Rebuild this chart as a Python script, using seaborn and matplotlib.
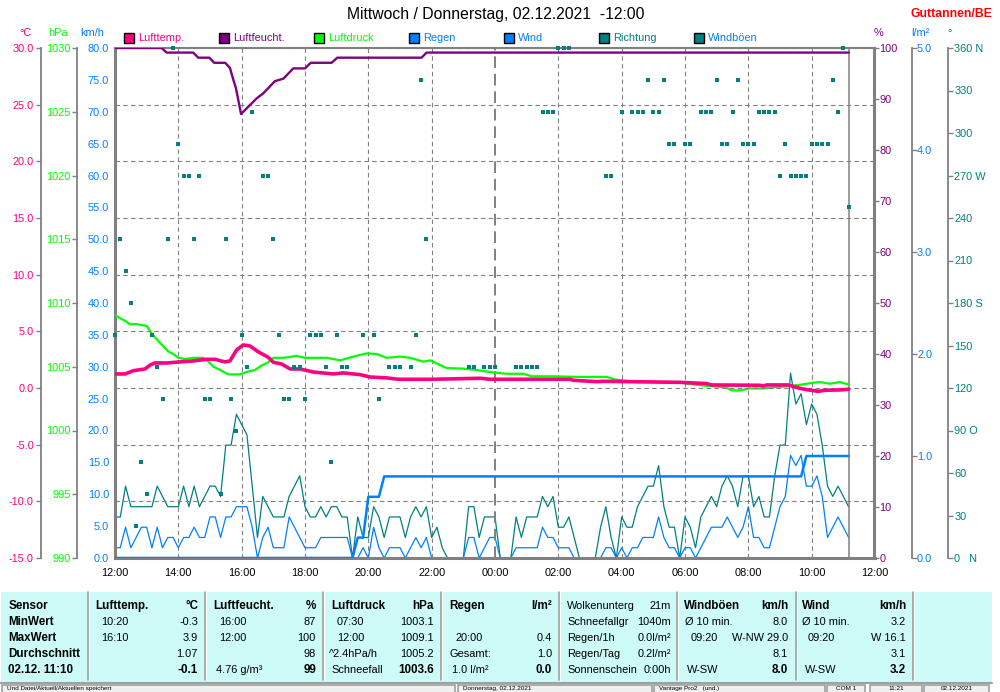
import numpy as np
import matplotlib
matplotlib.use("Agg")
import matplotlib.pyplot as plt
from matplotlib.patches import Rectangle
from matplotlib.lines import Line2D
import seaborn as sns

# ---------- data ----------
hum_h = [0,1.47,1.63,2.47,2.63,2.98,3.13,3.48,3.63,3.74,3.82,3.98,4.47,4.68,5.05,5.32,5.63,6.0,6.18,6.84,7.02,9.68,9.84,23.17]
hum_v = [100,100,99.1,99.1,98.1,98.1,97.1,97.1,96.1,93.7,92.1,87.06,90.1,91.1,93.5,94,96,96,97.1,97.1,98.1,98.1,99.1,99.1]

press_h = [0,.16,.32,.47,.68,1.0,1.16,1.37,1.53,1.68,1.84,2.0,2.21,2.47,2.79,2.95,3.11,3.32,3.58,3.95,4.16,4.42,4.63,4.84,5.0,5.32,5.74,6.0,6.68,7.11,7.53,7.95,8.26,8.58,9.0,9.32,9.74,9.95,10.47,11.0,11.42,11.79,12.16,12.37,12.89,13.16,13.84,14.68,14.99,15.53,15.79,16.47,17.84,18.05,18.68,19.26,19.47,19.79,20.0,20.47,21.32,21.68,22.05,22.26,22.58,22.89,23.17]
press_v = [1009.06,1008.8,1008.6,1008.33,1008.35,1008.2,1007.6,1007.0,1006.6,1006.2,1006.0,1005.7,1005.6,1005.7,1005.7,1005.4,1005.0,1004.75,1004.4,1004.4,1004.6,1004.75,1005.1,1005.35,1005.7,1005.7,1005.85,1005.7,1005.7,1005.5,1005.8,1006.05,1006.0,1005.7,1005.8,1005.7,1005.4,1005.5,1004.9,1004.85,1004.75,1004.6,1004.5,1004.45,1004.45,1004.25,1004.25,1004.2,1004.2,1004.2,1004.0,1003.8,1003.8,1003.67,1003.5,1003.4,1003.15,1003.15,1003.3,1003.3,1003.5,1003.6,1003.75,1003.8,1003.67,1003.8,1003.6]

temp_h = [0,.32,.58,.95,1.11,1.26,1.63,2.05,2.47,2.89,3.16,3.47,3.63,3.84,4.05,4.26,4.53,4.84,5.0,5.26,5.53,5.84,6.26,6.89,7.21,7.74,8.05,8.58,8.95,10.05,11.53,11.84,14.37,14.47,15.21,15.42,17.84,18.68,18.84,20.37,20.47,20.58,21.26,21.63,21.89,22.21,22.42,22.89,23.17]
temp_v = [1.24,1.24,1.53,1.68,2.03,2.21,2.21,2.3,2.39,2.53,2.53,2.3,2.39,3.36,3.8,3.71,3.18,2.71,2.27,2.12,1.68,1.68,1.41,1.24,1.33,1.18,.97,.89,.77,.77,.86,.77,.77,.68,.56,.59,.5,.39,.27,.24,.18,.27,.27,-.03,-.17,-.29,-.2,-.17,-.11]

rain_i = [0,45,46,47,48,50,51,130,131,139]
rain_v = [0,0,.2,.2,.6,.6,.8,.8,1.0,1.0]

# wind readings, in steps of the sensor (1 step = 1.61 km/h), one per 10 minutes
gust_steps = [4,4,7,5,5,5,5,5,7,6, 5,5,5,7,5,7,5,6,7,7, 6,11,11,14,13,12,7,2,6,5,
              4,4,4,6,7,8,5,4,4,5, 4,5,5,4,4,0,4,2,2,5, 4,2,4,4,4,2,4,5,4,5,
              2,3,1,0,0,0,0,5,5,2, 4,4,4,0,0,0,4,2,4,4, 4,6,5,6,3,3,4,2,0,0,
              0,0,3,5,2,0,4,3,3,5, 6,7,7,9,5,3,3,0,4,3, 1,4,5,6,5,7,8,7,5,8,
              8,5,6,4,4,8,11,11,18,15, 16,13,15,14,11,7,6,7,6,5]
wind_steps = [1,1,3,1,2,3,3,1,3,1, 2,2,1,2,2,3,2,2,4,4, 2,4,4,5,5,5,3,0,2,3,
              1,1,1,4,3,2,1,1,1,2, 2,2,2,2,2,0,0,1,0,3, 1,0,1,1,1,0,1,2,1,2,
              0,0,0,0,0,0,0,2,2,0, 1,2,2,0,0,0,1,1,1,1, 1,3,2,2,1,1,1,0,0,0,
              0,0,0,1,1,0,1,0,1,1, 2,2,2,4,2,1,1,0,1,1, 0,1,2,3,3,3,4,3,2,3,
              5,2,2,1,1,3,5,6,10,9, 10,7,7,8,6,2,3,4,3,2]
KMH_PER_STEP = 1.61

# wind direction: sample numbers (10 min) per compass sector
dir_360 = [11,84,85,86,138]
dir_3375 = [58,101,104,114,118,136]
dir_315 = [26,81,82,83,96,98,99,100,102,103,111,112,113,117,122,123,124,125,137]
dir_2925 = [12,105,106,108,109,115,116,119,120,121,127,132,133,134,135]
dir_270 = [13,14,16,28,29,93,94,126,128,129,130,131]
dir_2475 = [139]
dir_225 = [1,10,15,21,30,59]
dir_2025 = [2]
dir_180 = [3]
dir_1575 = [0,7,24,31,37,38,39,42,47,49,57]
dir_135 = [8,25,34,35,40,43,44,52,53,54,56,67,68,70,71,72,76,77,78,79,80]
dir_1125 = [9,17,18,22,32,33,36,50]
dir_90 = [23]
dir_675 = [5,41]
dir_45 = [6,20]
dir_225b = [4]
dir_sectors = [(360,dir_360),(337.5,dir_3375),(315,dir_315),(292.5,dir_2925),(270,dir_270),
               (247.5,dir_2475),(225,dir_225),(202.5,dir_2025),(180,dir_180),(157.5,dir_1575),
               (135,dir_135),(112.5,dir_1125),(90,dir_90),(67.5,dir_675),(45,dir_45),(22.5,dir_225b)]

x_labels = ["12:00","14:00","16:00","18:00","20:00","22:00","00:00","02:00","04:00","06:00","08:00","10:00","12:00"]
dir_tick_vals = [0,30,60,90,120,150,180,210,240,270,300,330,360]
dir_tick_txt = ["0   N","30","60","90 O","120","150","180 S","210","240","270 W","300","330","360 N"]
legend_names = ["Lufttemp.","Luftfeucht.","Luftdruck","Regen","Wind","Richtung","Windböen"]

PINK,PURPLE,GREEN,BLUE,TEAL,GREY = "#FF0080","#800080","#00FF00","#0080FF","#008080","#808080"
legend_cols = [PINK,PURPLE,GREEN,BLUE,BLUE,TEAL,TEAL]
legend_text = [PINK,PURPLE,GREEN,BLUE,BLUE,TEAL,BLUE]

# ---------- setup ----------
sns.set_theme(style="white")
plt.rcParams["font.family"] = ["Liberation Sans","DejaVu Sans"]
plt.rcParams["axes.unicode_minus"] = False
W,H = 1000,692
fig = plt.figure(figsize=(W/100,H/100),dpi=100,facecolor="white")
PT = 0.72
FS = 7.9

def fx(x): return x/W
def fy(y): return 1-y/H
ax = fig.add_axes([fx(115),fy(558),fx(875)-fx(115),(558-48)/H])
ax.set_facecolor("white")

def line(a,x,y,c,lw):
    sns.lineplot(x=x,y=y,ax=a,color=c,linewidth=lw,estimator=None,errorbar=None,legend=False)

t10 = np.arange(140)/6
# main axis: km/h
line(ax,t10,np.array(gust_steps)*KMH_PER_STEP,TEAL,0.9)
line(ax,t10,np.array(wind_steps)*KMH_PER_STEP,BLUE,0.9)
ax.set_xlim(0,24); ax.set_ylim(0,80)
ax.set_xticks(np.arange(0,25,2)); ax.set_xticklabels(x_labels,fontsize=FS,color="black")
ax.set_yticks(np.arange(0,81,5)); ax.set_yticklabels([f"{v:.1f}" for v in np.arange(0,81,5)],fontsize=FS,color=BLUE)
ax.tick_params(axis="y",length=0,pad=4.2,left=True)
ax.tick_params(axis="x",length=0,pad=7)
ax.grid(axis="x",color=GREY,lw=0.8,ls=(0,(4,3)))
ax.xaxis.get_gridlines()[6].set_visible(False)
ax.axvline(12,color=GREY,lw=1.4,ls=(0,(6,3)))
ax.axvline(23.17,color=GREY,lw=1.1)
ax.set_xlabel(""); ax.set_ylabel("")
for s,lw in (("left",2.2),("top",1.5),("bottom",2.2),("right",0)):
    ax.spines[s].set_color(GREY); ax.spines[s].set_linewidth(lw)
ax.spines["right"].set_visible(False)

def twin(lo,hi,side,out,ticks,labels,col,pad,minor=True,tl=3.6):
    a = ax.twinx()
    a.patch.set_visible(False)
    a.set_ylim(lo,hi)
    for s in a.spines: a.spines[s].set_visible(False)
    a.spines[side].set_visible(True)
    a.spines[side].set_position(("outward",out*PT))
    a.spines[side].set_color(GREY); a.spines[side].set_linewidth(1.3)
    if side=="left": a.yaxis.tick_left()
    else: a.yaxis.tick_right()
    a.set_yticks(ticks); a.set_yticklabels(labels,fontsize=FS,color=col)
    a.tick_params(axis="y",which="major",length=tl,width=1,color=GREY,pad=pad,direction="out")
    if minor:
        a.set_yticks([lo,hi],minor=True)
        a.tick_params(axis="y",which="minor",length=tl,width=1,color=GREY,direction="in")
    a.set_xlim(0,24)
    a.set_ylabel("")
    return a

t_ticks = np.arange(-15,31,5)
ax_p = twin(990,1030,"left",38,np.arange(990,1031,5),[str(v) for v in range(990,1031,5)],GREEN,1.0)
line(ax_p,press_h,press_v,GREEN,1.6)
ax_t = twin(-15,30,"left",74,t_ticks,[f"{v:.1f}" for v in t_ticks],PINK,1.5)
ax_t.grid(axis="y",color=GREY,lw=0.8,ls=(0,(4,3)))
line(ax_t,temp_h,temp_v,PINK,2.6)
ax_h = twin(0,100,"right",-1,np.arange(0,101,10),[str(v) for v in range(0,101,10)],PURPLE,0.4,minor=False)
ax_h.spines["right"].set_linewidth(2.2)
line(ax_h,hum_h,hum_v,PURPLE,1.7)
ax_r = twin(0,5,"right",37,np.arange(0,6),[f"{v:.1f}" for v in range(6)],BLUE,0.0)
line(ax_r,np.array(rain_i)/6,rain_v,BLUE,1.8)
ax_d = twin(0,360,"right",73,dir_tick_vals,dir_tick_txt,TEAL,1.0)
dx = np.concatenate([np.array(s)/6 for _,s in dir_sectors])
dy = np.concatenate([np.full(len(s),d) for d,s in dir_sectors])
sns.scatterplot(x=dx,y=dy,ax=ax_d,marker="s",s=9.5,color=TEAL,linewidth=0,legend=False,clip_on=False)
ax_d.set_ylim(0,360)

# ---------- header texts ----------
def T(x,y,s,c="black",ha="left",fs=FS,w="normal",**k):
    fig.text(fx(x),fy(y),s,color=c,ha=ha,va="center",fontsize=fs,fontweight=w,**k)

T(496,15,"Mittwoch / Donnerstag, 02.12.2021  -12:00",ha="center",fs=11.3)
T(992,14,"Guttannen/BE","#FF0000",ha="right",fs=8.8,w="bold")
for x,s,c in ((25,"°C",PINK),(58,"hPa",GREEN),(92,"km/h",BLUE),(878,"%",PURPLE),(920,"l/m²",BLUE),(950,"°",TEAL)):
    T(x,33,s,c,ha="center")
for i,(n,c,tc) in enumerate(zip(legend_names,legend_cols,legend_text)):
    x0 = 124+95*i
    fig.add_artist(Rectangle((fx(x0),fy(43)),10/W,10/H,transform=fig.transFigure,fc=c,ec="black",lw=1))
    T(x0+14,38,n,tc)

# ---------- table ----------
TAB = "#CCFBF8"
fig.add_artist(Rectangle((fx(1),fy(682)),991/W,90/H,transform=fig.transFigure,fc=TAB,ec="none"))
fig.add_artist(Line2D([fx(0),fx(992)],[fy(683)]*2,transform=fig.transFigure,color="#A0A0A0",lw=1.5))
for x in (88,205,323,441,559,677,796,913):
    fig.add_artist(Line2D([fx(x)]*2,[fy(592),fy(680)],transform=fig.transFigure,color="#A0A0A0",lw=1.2))
    fig.add_artist(Line2D([fx(x+1.2)]*2,[fy(592),fy(680)],transform=fig.transFigure,color="white",lw=0.8))

rows = [606,622,638,654,670]
sensor_col = ["Sensor","MinWert","MaxWert","Durchschnitt","02.12. 11:10"]
for y,s in zip(rows,sensor_col):
    T(8.5,y,s,w="bold",fs=8.4)

left_cols = [
 (95,[("Lufttemp.",95,1),("10:20",101,0),("16:10",101,0),("",0,0),("",0,0)]),
 (213,[("Luftfeucht.",213,1),("16:00",219,0),("12:00",219,0),("",0,0),("4.76 g/m³",216,0)]),
 (331,[("Luftdruck",331,1),("07:30",337,0),("12:00",337,0),("^2.4hPa/h",329,0),("Schneefall",331,0)]),
 (449,[("Regen",449,1),("",0,0),("20:00",455,0),("Gesamt:",449,0),("1.0 l/m²",452,0)]),
 (567,[("Wolkenunterg",567,0),("Schneefallgr",567,0),("Regen/1h",567,0),("Regen/Tag",567,0),("Sonnenschein",567,0)]),
 (684,[("Windböen",684,1),("Ø 10 min.",685,0),("09:20",691,0),("",0,0),("W-SW",687,0)]),
 (802,[("Wind",802,1),("Ø 10 min.",802,0),("09:20",808,0),("",0,0),("W-SW",805,0)]),
]
right_cols = [
 (198,["°C","-0.3","3.9","1.07","-0.1"],(1,0,0,0,1)),
 (316,["%","87","100","98","99"],(1,0,0,0,1)),
 (434,["hPa","1003.1","1009.1","1005.2","1003.6"],(1,0,0,0,1)),
 (552,["l/m²","","0.4","1.0","0.0"],(1,0,0,0,1)),
 (671,["21m","1040m","0.0l/m²","0.2l/m²","0:00h"],(0,0,0,0,0)),
 (788,["km/h","8.0","W-NW 29.0","8.1","8.0"],(1,0,0,0,1)),
 (906,["km/h","3.2","W 16.1","3.1","3.2"],(1,0,0,0,1)),
]
for _,col in left_cols:
    for y,(s,x,b) in zip(rows,col):
        if s: T(x,y,s,w="bold" if b else "normal",fs=8.4 if b else FS)
for x,col,bold in right_cols:
    for y,s,b in zip(rows,col,bold):
        if s: T(x,y,s,ha="right",w="bold" if b else "normal",fs=8.4 if b else FS)

# ---------- status bar ----------
for a,b,s in ((2,455,"Und Datei/Aktuell/Aktuellen speichert"),(458,652,"Donnerstag, 02.12.2021"),
              (654,825,"Vantage Pro2   (und.)"),(827,865,"COM 1"),(870,922,"11:21"),(924,989,"02.12.2021")):
    fig.add_artist(Rectangle((fx(a),fy(694)),(b-a)/W,9/H,transform=fig.transFigure,fc="#F0F0F0",ec="#A0A0A0",lw=1.2))
    fig.text(fx(a+5 if a<800 else (a+b)/2),fy(688.7),s,ha="left" if a<800 else "center",va="center",fontsize=4.6,color="black")

fig.savefig("out.png",dpi=100)
